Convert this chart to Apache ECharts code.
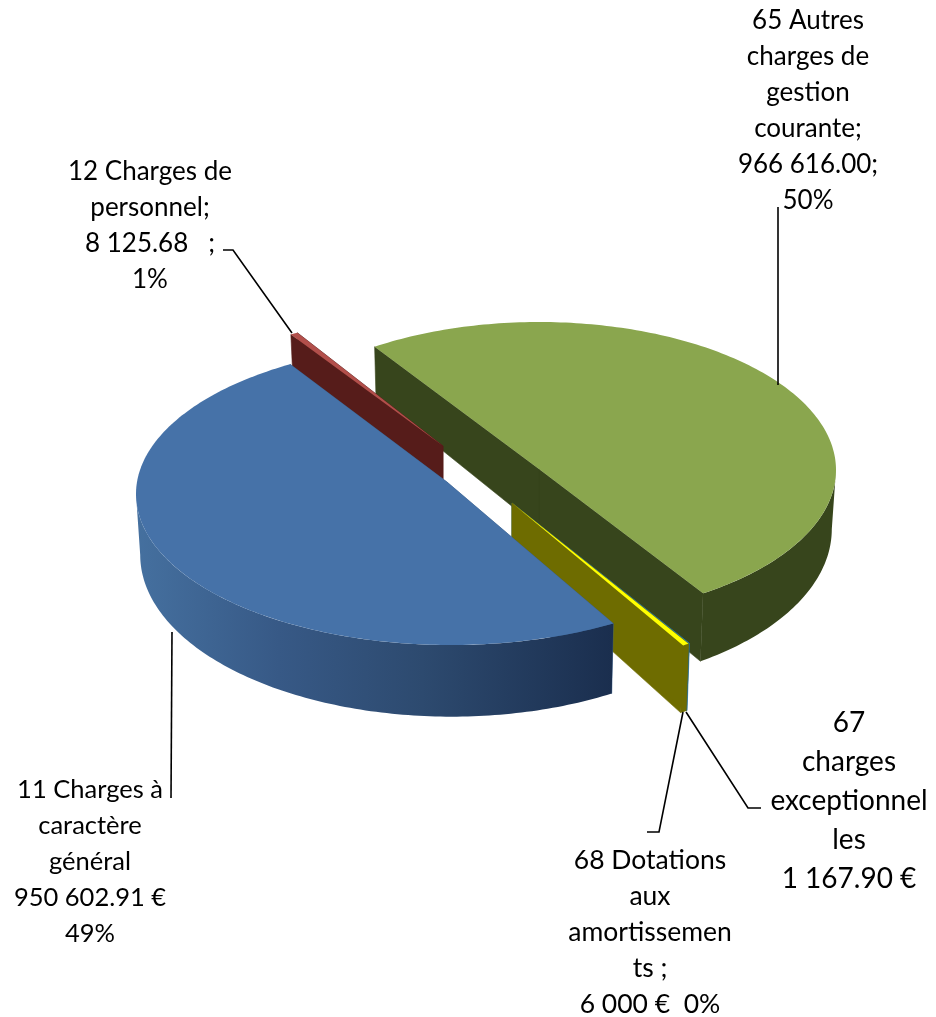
<!DOCTYPE html>
<html><head><meta charset="utf-8">
<style>html,body{margin:0;padding:0;background:#fff}#c{width:936px;height:1017px}</style>
<script src="https://cdn.jsdelivr.net/npm/echarts@6/dist/echarts.min.js"></script>
</head><body><div id="c"></div>
<script>
// Data (pie order, clockwise from first-slice angle)
var categories = ['11 Charges à caractère général','12 Charges de personnel','65 Autres charges de gestion courante','67 charges exceptionnelles','68 Dotations aux amortissements'];
var values = [950602.91, 8125.68, 966616.00, 1167.90, 6000];
var topColors = ['#4672a8','#b24f4b','#8aa64e','#2f7f9e','#ffff00'];
var sideColors = ['#3a5f8c','#561c1a','#37451c','#2a6a88','#6e6c00'];
var labelLines = [
  ['11 Charges à','caractère','général','950 602.91 €','49%'],
  ['12 Charges de','personnel;','8 125.68   ;','1%'],
  ['65 Autres','charges de','gestion','courante;','966 616.00;','50%'],
  ['67','charges','exceptionnel','les','1 167.90 €'],
  ['68 Dotations','aux','amortissemen','ts ;','6 000 €  0%']
];
// Layout of the exploded 3-D view, one entry per slice
var drawRank = [5,2,1,3,4];
var tipX = [447,443,539,512,512];
var tipY = [482,446,469,503,503];
var ellX = [451,443,539,512,512];
var ellY = [494,446,470,503,503];
var ellA = [315,287,297,323,323];
var ellB = [151,131.5,148,168,168];
var turn = [0,1.9,-1.2,-1,-1];
var spanStretch = [1.018,1,1,1,1];
var depthK = [1,1,1,0.94,0.94];
var labelBox = [
  {x:90,y:790,lh:36,fs:25.5},{x:150,y:172,lh:36,fs:26},{x:808,y:21,lh:36,fs:26},
  {x:849,y:723,lh:39,fs:28},{x:650,y:860,lh:36,fs:26.5}
];
var leaders = [
  [[172,632],[171,798]],
  [[292,333],[233,250],[223,250]],
  [[778,385],[778,207]],
  [[686,712],[748,808],[761,808]],
  [[683,712],[659,832],[647,832]]
];
var FONT = 'Lato, Carlito, "Open Sans", sans-serif';
var firstAngle = 59, axisX = 486, bottomShrink = 0.988;
var total = values.reduce(function(a,b){return a+b;},0);
var blueSide = new echarts.graphic.LinearGradient(136,0,613,0,[
  {offset:0,color:'#45709f'},{offset:0.3,color:'#375986'},{offset:0.6,color:'#2d4a6f'},{offset:1,color:'#1a2e4e'}],true);

function renderItem(params, api){
  var i=params.dataIndex, value=api.value(1), acc=0;
  for(var k=0;k<i;k++) acc+=values[k];
  var a0=(firstAngle+turn[i])*Math.PI/180+acc/total*2*Math.PI;
  var a1=a0+value/total*2*Math.PI*spanStretch[i];
  function pt(phi){return [ellX[i]+ellA[i]*Math.cos(phi), ellY[i]+ellB[i]*Math.sin(phi)];}
  function low(p,shrink){
    var d=(50+0.0717*(p[1]-343))*depthK[i];
    return [shrink?axisX+(p[0]-axisX)*bottomShrink:p[0], p[1]+d];
  }
  function sample(lo,hi){
    var n=Math.max(2,Math.ceil((hi-lo)/(Math.PI/180))), out=[];
    for(var j=0;j<=n;j++) out.push(pt(lo+(hi-lo)*j/n));
    return out;
  }
  var arc=sample(a0,a1);
  var tip=[tipX[i],tipY[i]];
  var rank=drawRank[i]*10;
  var side=i===0 ? blueSide : sideColors[i];
  function poly(points,fill,z,stroke){return {type:'polygon',z2:rank+z,shape:{points:points},
    style:stroke?{fill:fill,stroke:fill,lineWidth:0.6}:{fill:fill,stroke:null}};}
  function face(p,z){return poly([tip,p,low(p,true),low(tip,false)],sideColors[i],z,true);}
  var children=[face(arc[arc.length-1],0), face(arc[0],1)];
  // outer wall: only the part of the rim that faces the viewer
  [0,2*Math.PI].forEach(function(m){
    var lo=Math.max(a0,m), hi=Math.min(a1,m+Math.PI);
    if(hi>lo){
      var rim=sample(lo,hi);
      children.push(poly(rim.concat(rim.slice().reverse().map(function(p){return low(p,true);})),side,2,false));
    }
  });
  children.push(poly([tip].concat(arc),topColors[i],3,false));
  return {type:'group',children:children};
}
var graphics=[];
leaders.forEach(function(pts){
  graphics.push({type:'polyline',z:10,shape:{points:pts},style:{stroke:'#000',lineWidth:1.6,fill:null}});
});
labelLines.forEach(function(lines,i){
  var b=labelBox[i];
  graphics.push({type:'text',z:10,x:b.x,y:b.y-b.lh/2,style:{text:lines.join('\n'),font:b.fs+'px '+FONT,fill:'#000',align:'center',verticalAlign:'top',lineHeight:b.lh}});
});
var chart=echarts.init(document.getElementById('c'));
chart.setOption({
  animation:false,
  backgroundColor:'#fff',
  series:[{type:'custom',coordinateSystem:'none',renderItem:renderItem,silent:true,
    data:values.map(function(v,i){return {name:categories[i],value:[i,v]};})}],
  graphic:{elements:graphics}
});
</script></body></html>
